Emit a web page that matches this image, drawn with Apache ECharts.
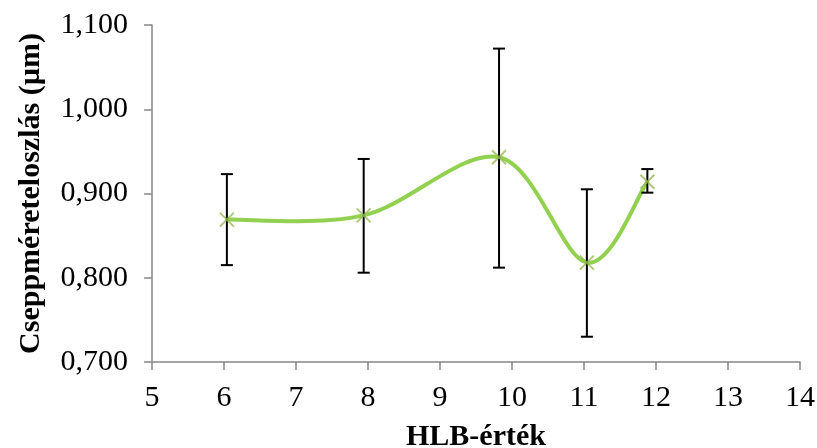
<!DOCTYPE html>
<html>
<head>
<meta charset="utf-8">
<script src="https://cdn.jsdelivr.net/npm/echarts@6/dist/echarts.min.js"></script>
<style>
html,body{margin:0;padding:0;background:#fff;}
#chart{width:817px;height:448px;}
</style>
</head>
<body>
<div id="chart"></div>
<script>
// Data
const hlbValues = [6.04, 7.94, 9.82, 11.04, 11.88];
const dropletSize = [0.869, 0.874, 0.943, 0.818, 0.914];
const errorPlus = [0.054, 0.067, 0.129, 0.087, 0.015];
const errorMinus = [0.054, 0.068, 0.131, 0.088, 0.013];
const xTicks = [5, 6, 7, 8, 9, 10, 11, 12, 13, 14];
const yTicks = [0.7, 0.8, 0.9, 1.0, 1.1];

const lineData = hlbValues.map((x, i) => [x, dropletSize[i]]);
const errData = hlbValues.map((x, i) => [x, dropletSize[i] - errorMinus[i], dropletSize[i] + errorPlus[i]]);

const FONT = 'Liberation Serif, Times New Roman, serif';
const chart = echarts.init(document.getElementById('chart'), null, {renderer: 'canvas'});
chart.setOption({
  animation: false,
  backgroundColor: '#ffffff',
  grid: {left: 152, right: 17, top: 25, bottom: 86, containLabel: false, outerBoundsMode: 'none'},
  xAxis: {
    type: 'value',
    min: xTicks[0], max: xTicks[xTicks.length - 1], interval: 1,
    name: 'HLB-érték',
    nameLocation: 'middle',
    nameGap: 60,
    nameTextStyle: {fontFamily: FONT, fontWeight: 'bold', fontSize: 30, color: '#000'},
    axisLine: {show: true, onZero: false, lineStyle: {color: '#868686', width: 1.5}},
    axisTick: {show: true, length: 8, inside: false, lineStyle: {color: '#868686', width: 1.5}},
    axisLabel: {fontFamily: FONT, fontSize: 30, color: '#000', margin: 21},
    splitLine: {show: false}
  },
  yAxis: {
    type: 'value',
    min: yTicks[0], max: yTicks[yTicks.length - 1], interval: 0.1,
    name: 'Cseppméreteloszlás (µm)',
    nameLocation: 'middle',
    nameGap: 106,
    nameRotate: 90,
    nameTextStyle: {fontFamily: FONT, fontWeight: 'bold', fontSize: 30, color: '#000'},
    axisLine: {show: true, lineStyle: {color: '#868686', width: 1.5}},
    axisTick: {show: true, length: 8, inside: false, lineStyle: {color: '#868686', width: 1.5}},
    axisLabel: {
      fontFamily: FONT, fontSize: 30, color: '#000', margin: 24,
      formatter: v => v.toFixed(3).replace('.', ',')
    },
    splitLine: {show: false}
  },
  series: [
    {
      // Smoothed line (Excel-style Catmull-Rom Bezier) drawn segment by segment through axis coords
      type: 'custom',
      data: lineData,
      z: 2,
      renderItem: function (params, api) {
        const i = params.dataIndex;
        if (i >= lineData.length - 1) return null;
        const P = lineData.map(d => api.coord(d));
        const p0 = P[Math.max(i - 1, 0)];
        const p1 = P[i];
        const p2 = P[i + 1];
        const p3 = P[Math.min(i + 2, P.length - 1)];
        const t = 1 / 6;
        return {
          type: 'bezierCurve',
          shape: {
            x1: p1[0], y1: p1[1], x2: p2[0], y2: p2[1],
            cpx1: p1[0] + (p2[0] - p0[0]) * t, cpy1: p1[1] + (p2[1] - p0[1]) * t,
            cpx2: p2[0] - (p3[0] - p1[0]) * t, cpy2: p2[1] - (p3[1] - p1[1]) * t
          },
          style: {stroke: '#92D050', lineWidth: 4, fill: null, lineCap: 'round'}
        };
      }
    },
    {
      type: 'custom',
      data: errData,
      z: 3,
      renderItem: function (params, api) {
        const x = api.value(0);
        const lo = api.coord([x, api.value(1)]);
        const hi = api.coord([x, api.value(2)]);
        const cap = 6;
        const style = {stroke: '#000', lineWidth: 2};
        return {
          type: 'group',
          children: [
            {type: 'line', shape: {x1: hi[0], y1: hi[1], x2: lo[0], y2: lo[1]}, style: style},
            {type: 'line', shape: {x1: hi[0] - cap, y1: hi[1], x2: hi[0] + cap, y2: hi[1]}, style: style},
            {type: 'line', shape: {x1: lo[0] - cap, y1: lo[1], x2: lo[0] + cap, y2: lo[1]}, style: style}
          ]
        };
      }
    },
    {
      type: 'scatter',
      data: lineData,
      symbol: 'path://M0,0 L10,10 M10,0 L0,10',
      symbolSize: 14,
      itemStyle: {color: 'none', borderColor: '#9BBB59', borderWidth: 2},
      z: 4
    }
  ]
});
</script>
</body>
</html>
